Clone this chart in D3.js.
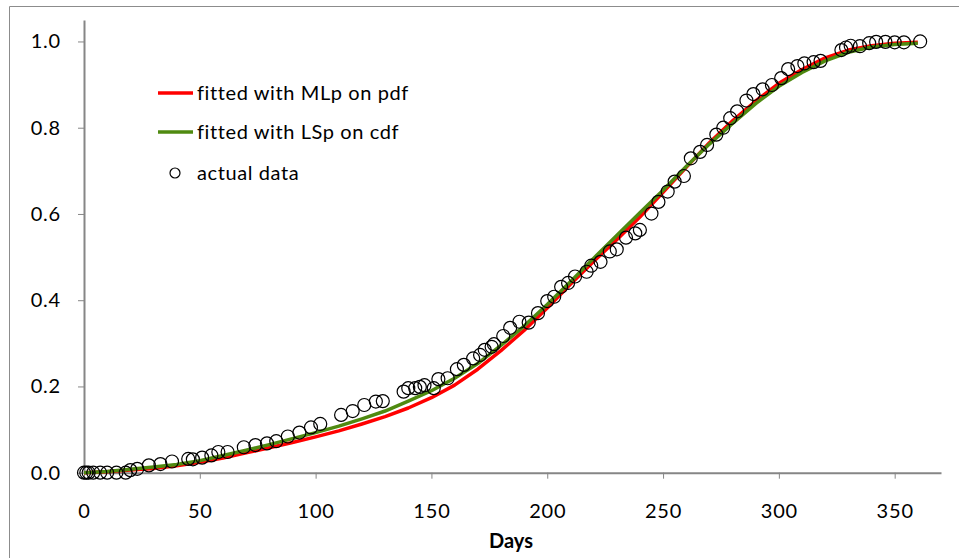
<!DOCTYPE html>
<html>
<head>
<meta charset="utf-8">
<script src="https://cdn.jsdelivr.net/npm/d3@7"></script>
<style>
  body { margin: 0; background: #fff; }
  svg { display: block; font-family: Lato, "Liberation Sans", sans-serif; }
  .axis path, .axis line { stroke: #868686; }
</style>
</head>
<body>
<div id="chart"></div>
<script>
// actual data (day, cumulative fraction)
var obsDays = [0, 1, 2, 4, 7, 10, 14, 18, 20, 23, 28, 33, 38, 45, 47, 51, 55, 58, 62, 69,
  74, 79, 83, 88, 93, 98, 102, 111, 116, 121, 126, 129, 138, 140, 143, 145, 147, 151, 153, 157,
  161, 164, 168, 171, 173, 176, 177, 181, 184, 188, 192, 196, 200, 203, 206, 209, 212, 217, 219, 223,
  227, 230, 234, 238, 240, 245, 248, 252, 255, 259, 262, 266, 269, 273, 276, 279, 282, 286, 289, 293,
  297, 301, 304, 308, 311, 315, 318, 327, 329, 331, 335, 339, 342, 346, 350, 354, 361];
var obsVals = [0.000, 0.000, 0.000, 0.000, 0.000, 0.000, 0.000, 0.000, 0.006, 0.009, 0.017, 0.020, 0.026, 0.032, 0.031, 0.035, 0.040, 0.048, 0.048, 0.059,
  0.064, 0.068, 0.073, 0.084, 0.093, 0.105, 0.113, 0.134, 0.143, 0.157, 0.165, 0.166, 0.188, 0.196, 0.196, 0.199, 0.203, 0.196, 0.217, 0.219,
  0.240, 0.250, 0.265, 0.273, 0.285, 0.292, 0.298, 0.317, 0.336, 0.350, 0.348, 0.370, 0.398, 0.408, 0.431, 0.440, 0.455, 0.466, 0.480, 0.489,
  0.513, 0.518, 0.545, 0.555, 0.563, 0.601, 0.628, 0.652, 0.675, 0.688, 0.729, 0.744, 0.760, 0.784, 0.800, 0.822, 0.838, 0.863, 0.878, 0.889,
  0.899, 0.915, 0.936, 0.943, 0.949, 0.952, 0.955, 0.980, 0.986, 0.990, 0.989, 0.996, 0.999, 0.999, 0.998, 0.998, 1.000];

// fitted curves
var fitDays = [0, 10, 20, 30, 40, 50, 60, 70, 80, 90, 100, 110, 120, 130, 140, 150, 160, 170, 180, 190,
  200, 210, 220, 230, 240, 250, 260, 270, 280, 290, 300, 310, 320, 330, 340, 350, 360];
var mlpVals = [0.000, 0.002, 0.006, 0.010, 0.016, 0.024, 0.034, 0.046, 0.058, 0.070, 0.083, 0.097, 0.113, 0.130, 0.150, 0.174, 0.203, 0.240, 0.283, 0.330,
  0.382, 0.437, 0.490, 0.540, 0.593, 0.650, 0.708, 0.765, 0.816, 0.862, 0.903, 0.935, 0.962, 0.980, 0.990, 0.996, 0.998];
var lspVals = [0.000, 0.003, 0.008, 0.013, 0.019, 0.028, 0.040, 0.052, 0.065, 0.079, 0.093, 0.108, 0.125, 0.143, 0.166, 0.190, 0.219, 0.253, 0.295, 0.340,
  0.390, 0.443, 0.497, 0.550, 0.603, 0.655, 0.710, 0.762, 0.810, 0.856, 0.896, 0.928, 0.955, 0.975, 0.987, 0.993, 0.996];

var xTicks = [0, 50, 100, 150, 200, 250, 300, 350];
var yTicks = [0, 0.2, 0.4, 0.6, 0.8, 1.0];
var legendLabels = ["fitted with MLp on pdf", "fitted with LSp on cdf", "actual data"];
var lineColors = ["#ff0000", "#4f8a10"];

var W = 959, H = 558;
var svg = d3.select("#chart").append("svg").attr("width", W).attr("height", H);

// outer chart frame (top and left edges visible)
svg.append("path").attr("d", "M9.5,558 V6.5 H959").attr("fill", "none").attr("stroke", "#8c8c8c");

var x = d3.scaleLinear().domain([0, 370]).range([84, 941]);
var y = d3.scaleLinear().domain([0, 1.05]).range([472.7, 19.9]);

svg.append("g").attr("class", "axis")
  .attr("transform", "translate(0," + y(0) + ")")
  .call(d3.axisBottom(x).tickValues(xTicks).tickSize(6).tickSizeOuter(0).tickPadding(25));
svg.append("g").attr("class", "axis")
  .attr("transform", "translate(" + x(0) + ",0)")
  .call(d3.axisLeft(y).tickValues(yTicks).tickSize(6).tickSizeOuter(0).tickPadding(17).tickFormat(d3.format(".1f")));
svg.selectAll(".axis path").attr("stroke-width", 2);
svg.selectAll(".axis text").attr("font-size", 20).attr("letter-spacing", 0.8)
  .attr("fill", "#000").attr("font-family", "Lato, sans-serif");

svg.append("text").attr("x", 511).attr("y", 548).attr("text-anchor", "middle")
  .attr("font-weight", "bold").attr("font-size", 20).text("Days");

var line = d3.line().x(function(d) { return x(d[0]); }).y(function(d) { return y(d[1]); });
[mlpVals, lspVals].forEach(function(vals, i) {
  svg.append("path")
    .datum(fitDays.map(function(d, j) { return [d, vals[j]]; }))
    .attr("d", line)
    .attr("fill", "none")
    .attr("stroke", lineColors[i])
    .attr("stroke-width", 3.5)
    .attr("stroke-linejoin", "round");
});

svg.append("g").selectAll("circle")
  .data(obsDays.map(function(d, j) { return [d, obsVals[j]]; }))
  .enter().append("circle")
  .attr("cx", function(d) { return x(d[0]); })
  .attr("cy", function(d) { return y(d[1]); })
  .attr("r", 6.5)
  .attr("fill", "none")
  .attr("stroke", "#000")
  .attr("stroke-width", 1.2);

// legend
var lg = svg.append("g");
var rowY = [93, 132, 173];
[0, 1].forEach(function(i) {
  lg.append("line").attr("x1", 158).attr("x2", 193).attr("y1", rowY[i]).attr("y2", rowY[i])
    .attr("stroke", lineColors[i]).attr("stroke-width", 3.5);
});
lg.append("circle").attr("cx", 175).attr("cy", rowY[2]).attr("r", 5)
  .attr("fill", "none").attr("stroke", "#000").attr("stroke-width", 1.2);
lg.selectAll("text").data(legendLabels).enter().append("text")
  .attr("x", 197).attr("y", function(d, i) { return rowY[i]; })
  .attr("dy", "0.35em").attr("font-size", 20).attr("letter-spacing", 0.6)
  .text(function(d) { return d; });
</script>
</body>
</html>
